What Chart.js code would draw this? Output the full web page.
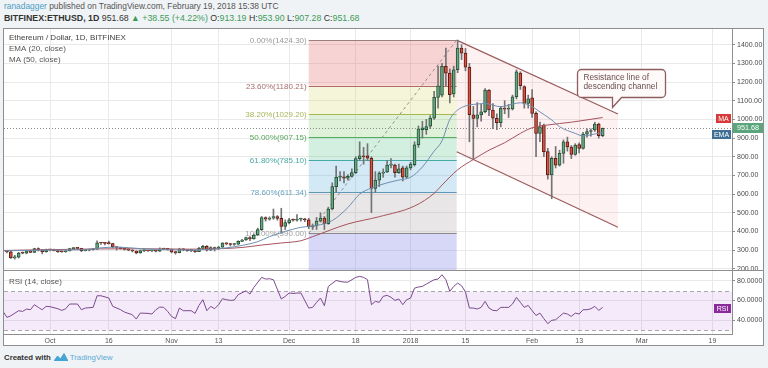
<!DOCTYPE html>
<html>
<head>
<meta charset="utf-8">
<title>ETHUSD 1D</title>
<script src="https://cdn.jsdelivr.net/npm/chart.js@4.4.1/dist/chart.umd.min.js"></script>
<style>
  html, body { margin:0; padding:0; }
  body { width:768px; height:368px; background:#f0f3f6; position:relative; overflow:hidden; font-family:"Liberation Sans", Arial, sans-serif; }
  .hdr { position:absolute; left:4px; white-space:nowrap; line-height:1; }
  #h1 { top:2px; font-size:8.4px; color:#555; }
  #h1 .user { color:#4b9cc4; }
  #h2 { top:14px; font-size:8.8px; color:#333; }
  #h2 .g { color:#3d9b58; }
  #frame { position:absolute; left:3px; top:28px; width:761px; height:318px; box-sizing:border-box; border:1px solid #8e8e8e; background:#fff; }
  canvas { position:absolute; left:0; }
  #cPrice { top:29px; }
  #cRsi { top:271px; }
  .ln { position:absolute; background:#8e8e8e; }
  #footer { position:absolute; left:4px; top:353px; font-size:7.8px; white-space:nowrap; line-height:1; }
  #footer b { color:#333; }
  #footer .tv { color:#5aa9d6; }
  #footer svg { vertical-align:-1px; margin:0 2px 0 3px; }
</style>
</head>
<body>
<div class="hdr" id="h1"><span class="user">ranadagger</span> published on TradingView.com, February 19, 2018 15:38 UTC</div>
<div class="hdr" id="h2"><b>BITFINEX:ETHUSD, 1D</b> 951.68 <span class="g">&#9650;</span> <span class="g">+38.55 (+4.22%)</span> O:<span class="g">913.19</span> H:<span class="g">953.90</span> L:<span class="g">907.28</span> C:<span class="g">951.68</span></div>
<div id="frame"></div>
<canvas id="cPrice" width="768" height="242"></canvas>
<canvas id="cRsi" width="768" height="75"></canvas>
<div class="ln" style="left:3px;top:270px;width:761px;height:1px"></div>
<div class="ln" style="left:732px;top:29px;width:1px;height:305px"></div>
<div class="ln" style="left:3px;top:334px;width:730px;height:1px"></div>
<div id="footer"><b>Created with</b><svg width="14" height="8" viewBox="0 0 14 8"><path d="M0 8 L3.5 3 L6.5 6 L10 0.5 L14 8 Z" fill="#45a5d4" stroke="#45a5d4" stroke-linejoin="round" stroke-width="1"/></svg><span class="tv">TradingView</span></div>

<script>
// ---------------- DATA ----------------
// Daily candles, index 0 = 2017-09-20, last = 2018-02-19
const open = [
  292,291,258,262,284,283,296,288,308,301,
  291,303,302,297,292,291,296,308,311,309,
  297,299,303,305,339,338,336,335,317,314,
  308,304,300,295,285,297,297,296,296,294,
  306,307,304,290,286,305,301,297,297,292,
  309,320,299,314,307,316,337,333,330,332,
  347,354,367,360,381,410,474,466,471,480,
  470,427,447,462,460,465,468,462,425,430,
  455,472,442,520,640,690,692,685,695,715,
  790,805,805,792,630,675,712,718,755,755,
  715,740,690,740,757,864,945,945,963,1007,
  1118,1129,1284,1248,1136,1266,1382,1355,1279,1025,
  1005,1025,1041,1157,1050,1006,983,1061,1054,1056,
  1121,1248,1175,1086,1115,1032,925,970,827,702,
  791,755,818,880,852,812,865,845,921,935,
  943,975,913.19];
const high = [
  298,293,272,288,290,298,298,310,312,302,
  306,304,305,299,295,298,310,314,313,310,
  303,305,308,350,342,342,348,337,318,316,
  310,308,302,297,300,300,299,300,298,312,
  310,309,306,292,310,308,303,303,300,315,
  325,324,318,316,320,340,340,336,336,350,
  358,370,372,385,418,480,478,478,520,485,
  524,462,470,467,490,472,470,470,440,475,
  500,480,530,660,750,720,720,705,735,800,
  880,850,870,800,720,720,735,780,790,760,
  760,750,750,770,880,965,990,1000,1020,1150,
  1285,1300,1382,1270,1285,1424.3,1400,1380,1300,1070,
  1090,1080,1165,1160,1085,1030,1070,1100,1080,1130,
  1265,1255,1180,1130,1160,1040,985,975,845,800,
  855,835,890,905,860,870,875,930,950,950,
  985,980,953.9];
const low = [
  285,255,252,258,280,280,286,286,295,280,
  289,295,295,288,288,288,295,304,305,292,
  295,296,300,303,330,328,332,312,300,305,
  300,297,290,280,283,292,293,292,290,292,
  302,300,285,278,285,296,293,292,288,291,
  306,295,297,295,303,314,328,322,325,328,
  345,352,350,358,378,405,455,460,465,460,
  390,410,440,455,455,455,452,415,410,410,
  450,410,438,515,610,670,660,675,690,710,
  780,760,780,500,610,640,690,715,740,690,
  710,670,685,730,750,850,900,920,950,1000,
  1060,1120,1180,1088,1120,1250,1320,1260,880,785,
  960,990,1035,1020,950,945,960,1030,1010,1050,
  1110,1160,1060,1060,1010,800,880,800,680,575,
  740,750,765,830,790,808,820,840,905,910,
  935,900,907.28];
const close = [
  291,258,262,284,283,296,288,308,301,291,
  303,302,297,292,291,296,308,311,309,297,
  299,303,305,339,338,336,335,317,314,308,
  304,300,295,285,297,297,296,296,294,306,
  307,304,290,286,305,301,297,297,292,309,
  320,299,314,307,316,337,333,330,332,347,
  354,367,360,381,410,474,466,471,480,470,
  427,447,462,460,465,468,462,425,430,455,
  472,442,520,640,690,692,685,695,715,790,
  805,800,792,630,675,712,718,755,758,715,
  735,690,740,760,864,950,955,962,1007,1118,
  1180,1284,1248,1132,1266,1382,1355,1279,1025,1005,
  1025,1041,1157,1050,1006,983,1061,1054,1056,1121,
  1255,1180,1086,1110,1032,925,960,827,702,791,
  755,818,880,852,812,862,845,921,935,940,
  975,913,951.68];

// Moving averages (day index, value)
const maDays = [-1,10,22,34,46,54,60,65,70,75,78,87,95,104,109,111,115,119,123,127,131,134,138,144,152];
const maVals = [298,302,306,307,305,307,314,327,338,350,372,440,479,536,604,648,730,785,835,875,925,955,970,985,1010];
const emaDays = [-1,10,20,24,28,34,40,46,52,56,60,64,67,71,75,79,83,87,90,93,97,100,103,106,109,111,113,115,117,119,122,126,129,131,134,136,139,141,145,147,150,152];
const emaVals = [296,300,302,312,316,308,302,300,304,312,325,345,372,400,422,432,458,528,600,632,660,675,690,745,830,885,1000,1050,1072,1080,1085,1068,1082,1089,1068,1040,997,961,925,911,922,929];

// RSI (14)
const rsiDays = [-1,0,1,3,4,5,6,7,8,9,10,11,13,14,15,16,18,19,20,22,23,24,26,27,29,30,32,33,34,36,37,38,39,40,41,42,43,44,45,47,48,49,50,51,52,53,54,55,56,57,58,59,61,62,63,65,66,67,68,70,71,72,73,74,75,77,78,79,80,81,82,84,85,86,87,89,90,91,92,93,94,95,96,
  97,98,99,100,101,102,103,104,105,106,107,109,110,111,112,113,114,115,116,117,118,119,120,121,122,123,124,125,126,127,128,129,130,131,132,133,134,135,136,137,138,139,140,141,142,143,144,145,146,147,148,149,150,151,152];
const rsiVals = [48.8,42.7,44.4,49.5,48.8,51.2,50.5,55.6,52.9,50.5,53.9,53.6,51.5,49.8,51.5,56.3,56.3,50.5,52.2,52.9,64.7,64.7,62.4,53.9,50.5,48.1,45.4,41.0,47.1,46.8,46.1,50.5,53.2,52.9,48.8,43.7,41.4,52.2,49.5,49.5,46.8,54.9,60.7,49.5,53.9,51.5,55.6,61.7,60.7,60.0,60.3,65.8,69.8,66.4,73.2,83.4,81.7,82.0,81.0,61.4,64.1,67.5,67.1,67.5,67.5,52.2,52.9,58.0,62.4,54.6,74.2,80.3,79.3,78.6,78.6,83.4,84.4,83.4,81.0,55.6,59.0,58.0,64.1,
  65.1,63.1,60.0,61.4,55.6,60.7,62.4,72.5,73.6,74.2,76.6,81.0,81.7,86.1,81.0,69.2,74.2,77.6,74.9,68.5,52.2,52.2,51.2,52.9,59.0,52.2,49.8,49.5,52.9,52.9,52.9,56.3,63.1,58.0,52.9,54.9,49.5,44.7,47.1,41.4,36.3,39.7,40.3,43.7,47.1,46.1,43.7,47.1,46.1,50.5,50.5,51.5,53.9,49.8,52.9];
const rsiBand = [30, 70];

// Axis ticks
const dateTickDays = [11, 26, 42, 54, 72, 89, 103, 117, 134, 146, 162, 180];
const dateTickLabels = ['Oct', '16', 'Nov', '13', 'Dec', '18', '2018', '15', 'Feb', '13', 'Mar', '19'];
const priceTicks = [200, 300, 400, 500, 600, 700, 800, 900, 1000, 1100, 1200, 1300, 1400];
const rsiTicks = [40, 60, 80];

// Drawings: Fibonacci retracement, descending channel, callout
const fibLevels = [0, 0.236, 0.382, 0.5, 0.618, 0.786, 1];
const fibHigh = 1424.30, fibLow = 390.00;
const fibDays = [77, 114.75];
const channelDays = [114.75, 155.9];
const channelUpper = [1424.3, 1029];
const channelLower = [827, 422];
const calloutPoint = [154.5, 1066];
const calloutLines = ['Resistance line of', 'descending channel'];

// ---------------- STYLE ----------------
const FONT = '"Liberation Sans", Arial, sans-serif';
const fibZoneFill = ['rgba(232,110,110,0.30)','rgba(212,215,95,0.24)','rgba(120,200,95,0.24)','rgba(70,190,125,0.24)','rgba(70,165,215,0.24)','rgba(150,140,140,0.22)','rgba(110,110,225,0.28)'];
const fibLineColor = ['#9b7f7f','#ad6b6b','#a6b852','#58ad5c','#45aaa0','#5f98b8','#8a8a8a'];
const fibTextColor = ['#9a9a9a','#a56d6d','#a8b45a','#55a55a','#45a8a0','#68a2c0','#a0a0a0'];
const upFill = '#6ba583', downFill = '#d75442', upBorder = '#225437', downBorder = '#5b1a13', wickColor = '#737375';
const gridColor = '#e9e9e9';
const xMin = -0.75, xMax = 185;

const days = close.map((_, i) => i);
const isUp = days.map(i => close[i] >= open[i]);

function linearX() {
  return {
    type: 'linear', min: xMin, max: xMax, offset: false,
    grid: { color: gridColor, drawTicks: false, offset: false },
    border: { display: false },
    afterBuildTicks: s => { s.ticks = dateTickDays.map(v => ({ value: v })); }
  };
}

function roundRectPath(ctx, x0, y0, x1, y1, r, tail) {
  ctx.beginPath();
  ctx.moveTo(x0 + r, y0);
  ctx.lineTo(x1 - r, y0); ctx.arcTo(x1, y0, x1, y0 + r, r);
  ctx.lineTo(x1, y1 - r); ctx.arcTo(x1, y1, x1 - r, y1, r);
  if (tail) { ctx.lineTo(tail.x + 9, y1); ctx.lineTo(tail.x, tail.y); ctx.lineTo(tail.x, y1); }
  ctx.lineTo(x0 + r, y1); ctx.arcTo(x0, y1, x0, y1 - r, r);
  ctx.lineTo(x0, y0 + r); ctx.arcTo(x0, y0, x0 + r, y0, r);
  ctx.closePath();
}

function tag(ctx, x, yc, w, h, fill, text, size) {
  ctx.fillStyle = fill;
  ctx.fillRect(x, Math.round(yc - h / 2), w, h);
  ctx.fillStyle = '#fff';
  ctx.font = size + 'px ' + FONT;
  ctx.textAlign = 'center'; ctx.textBaseline = 'middle';
  ctx.fillText(text, x + w / 2, Math.round(yc - h / 2) + h / 2 + 0.5);
}

const pricePlugin = {
  id: 'pricePlugin',
  beforeDatasetsDraw(chart) {
    const { ctx, chartArea: a } = chart;
    const X = v => chart.scales.x.getPixelForValue(v);
    const Y = v => chart.scales.y.getPixelForValue(v);
    ctx.save();
    ctx.beginPath(); ctx.rect(a.left, a.top, a.width, a.height); ctx.clip();

    // Fibonacci zones
    const fx0 = X(fibDays[0]), fx1 = X(fibDays[1]);
    const lvl = fibLevels.map(p => fibHigh - p * (fibHigh - fibLow));
    for (let i = 0; i < lvl.length; i++) {
      const t = Y(lvl[i]);
      const b = i + 1 < lvl.length ? Y(lvl[i + 1]) : a.bottom;
      ctx.fillStyle = fibZoneFill[i];
      ctx.fillRect(fx0, t, fx1 - fx0, b - t);
    }
    // Fibonacci lines and labels
    ctx.font = '8px ' + FONT;
    ctx.textAlign = 'right'; ctx.textBaseline = 'middle';
    for (let i = 0; i < lvl.length; i++) {
      const y = Math.round(Y(lvl[i])) + 0.5;
      ctx.strokeStyle = fibLineColor[i]; ctx.lineWidth = 1;
      ctx.beginPath(); ctx.moveTo(fx0, y); ctx.lineTo(fx1, y); ctx.stroke();
      ctx.fillStyle = fibTextColor[i];
      ctx.fillText((fibLevels[i] * 100).toFixed(2) + '%(' + lvl[i].toFixed(2) + ')', fx0 - 2, y);
    }
    // dashed trend line of the retracement
    ctx.strokeStyle = '#8f8f8f'; ctx.setLineDash([3, 3]); ctx.lineWidth = 1;
    ctx.beginPath(); ctx.moveTo(fx0, Y(fibLow)); ctx.lineTo(fx1, Y(fibHigh)); ctx.stroke();
    ctx.setLineDash([]);

    // Descending channel
    const cx0 = X(channelDays[0]), cx1 = X(channelDays[1]);
    ctx.fillStyle = 'rgba(232,120,120,0.10)';
    ctx.beginPath();
    ctx.moveTo(cx0, Y(channelUpper[0])); ctx.lineTo(cx1, Y(channelUpper[1]));
    ctx.lineTo(cx1, Y(channelLower[1])); ctx.lineTo(cx0, Y(channelLower[0]));
    ctx.closePath(); ctx.fill();
    ctx.strokeStyle = '#9a5c5c'; ctx.lineWidth = 1.2;
    ctx.beginPath(); ctx.moveTo(cx0, Y(channelUpper[0])); ctx.lineTo(cx1, Y(channelUpper[1])); ctx.stroke();
    ctx.beginPath(); ctx.moveTo(cx0, Y(channelLower[0])); ctx.lineTo(cx1, Y(channelLower[1])); ctx.stroke();

    // last price dotted line
    const ly = Math.round(Y(close[close.length - 1])) + 0.5;
    ctx.strokeStyle = '#8a8a8a'; ctx.lineWidth = 1; ctx.setLineDash([1, 2]);
    ctx.beginPath(); ctx.moveTo(a.left, ly); ctx.lineTo(a.right, ly); ctx.stroke();
    ctx.setLineDash([]);
    ctx.restore();
  },
  afterDraw(chart) {
    const { ctx, chartArea: a } = chart;
    const X = v => chart.scales.x.getPixelForValue(v);
    const Y = v => chart.scales.y.getPixelForValue(v);
    ctx.save();
    // callout
    const tx = Math.round(X(calloutPoint[0])) + 0.5, ty = Math.round(Y(calloutPoint[1])) + 0.5;
    const bx0 = tx - 35, bx1 = tx + 53, by0 = ty - 38, by1 = ty - 10;
    roundRectPath(ctx, bx0, by0, bx1, by1, 4, { x: tx, y: ty });
    ctx.fillStyle = '#fffafa'; ctx.fill();
    ctx.strokeStyle = '#8e5e5e'; ctx.lineWidth = 1.3; ctx.stroke();
    ctx.fillStyle = '#6a4f4f'; ctx.font = '8.3px ' + FONT;
    ctx.textAlign = 'left'; ctx.textBaseline = 'middle';
    ctx.fillText(calloutLines[0], bx0 + 6, by0 + 8.5);
    ctx.fillText(calloutLines[1], bx0 + 6, by0 + 17.5);

    // series tags on the right
    tag(ctx, a.right - 16, Y(maVals[maVals.length - 1]) + 1, 15, 9, '#d83a3a', 'MA', 7);
    tag(ctx, a.right - 20, Y(emaVals[emaVals.length - 1]) + 2, 19, 9, '#3f6f95', 'EMA', 7);
    tag(ctx, a.right + 1, Y(close[close.length - 1]), 30, 10, '#5aa57b', close[close.length - 1].toFixed(2), 7.2);

    // legend
    ctx.textAlign = 'left'; ctx.textBaseline = 'middle';
    ctx.fillStyle = '#3e3e3e'; ctx.font = '8px ' + FONT;
    ctx.fillText('Ethereum / Dollar, 1D, BITFINEX', a.left + 5, 8.5);
    ctx.fillStyle = '#555';
    ctx.fillText('EMA (20, close)', a.left + 5, 19.5);
    ctx.fillText('MA (50, close)', a.left + 5, 30.5);
    ctx.restore();
  }
};

const rsiPlugin = {
  id: 'rsiPlugin',
  beforeDatasetsDraw(chart) {
    const { ctx, chartArea: a } = chart;
    const Y = v => chart.scales.y.getPixelForValue(v);
    ctx.save();
    const y0 = Math.round(Y(rsiBand[1])) + 0.5, y1 = Math.round(Y(rsiBand[0])) + 0.5;
    ctx.fillStyle = 'rgba(175,90,215,0.13)';
    ctx.fillRect(a.left, y0, a.width, y1 - y0);
    ctx.strokeStyle = '#a8a8a8'; ctx.lineWidth = 1; ctx.setLineDash([4, 3]);
    [y0, y1].forEach(y => { ctx.beginPath(); ctx.moveTo(a.left, y); ctx.lineTo(a.right, y); ctx.stroke(); });
    ctx.setLineDash([]);
    ctx.restore();
  },
  afterDraw(chart) {
    const { ctx, chartArea: a } = chart;
    const Y = v => chart.scales.y.getPixelForValue(v);
    ctx.save();
    ctx.fillStyle = '#555'; ctx.font = '8px ' + FONT;
    ctx.textAlign = 'left'; ctx.textBaseline = 'middle';
    ctx.fillText('RSI (14, close)', a.left + 5, 11);
    tag(ctx, a.right - 18, Y(rsiVals[rsiVals.length - 1]) + 1, 17, 9, '#8a2b9b', 'RSI', 7);
    ctx.restore();
  }
};

Chart.defaults.font.family = FONT;

new Chart(document.getElementById('cPrice'), {
  type: 'bar',
  data: {
    datasets: [
      { type: 'line', label: 'EMA (20)', data: emaDays.map((d, i) => ({ x: d, y: emaVals[i] })),
        borderColor: '#6e8fb0', borderWidth: 1, pointRadius: 0, cubicInterpolationMode: 'monotone', order: 0 },
      { type: 'line', label: 'MA (50)', data: maDays.map((d, i) => ({ x: d, y: maVals[i] })),
        borderColor: '#a5525c', borderWidth: 1, pointRadius: 0, cubicInterpolationMode: 'monotone', order: 0 },
      { type: 'bar', label: 'body', data: days.map(i => ({ x: i, y: [open[i], close[i]] })),
        backgroundColor: days.map(i => isUp[i] ? upFill : downFill),
        borderColor: days.map(i => isUp[i] ? upBorder : downBorder),
        borderWidth: 1, borderSkipped: false, barThickness: 3, minBarLength: 1, grouped: false, order: 1 },
      { type: 'bar', label: 'wick', data: days.map(i => ({ x: i, y: [low[i], high[i]] })),
        backgroundColor: wickColor, barThickness: 1, grouped: false, order: 2 }
    ]
  },
  options: {
    responsive: false, animation: false, devicePixelRatio: 1,
    layout: { padding: { left: 4, right: 0, top: 0, bottom: 0 } },
    plugins: { legend: { display: false }, tooltip: { enabled: false } },
    scales: {
      x: Object.assign(linearX(), {
        ticks: { display: false },
        afterFit: s => { s.height = 0; s.paddingLeft = 0; s.paddingRight = 0; }
      }),
      y: {
        position: 'right', min: 188, max: 1484,
        grid: { color: gridColor, tickColor: '#8e8e8e', tickLength: 3 },
        border: { display: false },
        ticks: { color: '#4a4a4a', font: { size: 7, family: FONT }, padding: 2, callback: v => Number(v).toFixed(2) },
        afterBuildTicks: s => { s.ticks = priceTicks.map(v => ({ value: v })); },
        afterFit: s => { s.width = 36; s.paddingTop = 0; s.paddingBottom = 0; }
      }
    }
  },
  plugins: [pricePlugin]
});

new Chart(document.getElementById('cRsi'), {
  type: 'line',
  data: {
    datasets: [{ label: 'RSI (14)', data: rsiDays.map((d, i) => ({ x: d, y: rsiVals[i] })),
      borderColor: '#7a4a8c', borderWidth: 1, pointRadius: 0, tension: 0 }]
  },
  options: {
    responsive: false, animation: false, devicePixelRatio: 1,
    layout: { padding: { left: 4, right: 0, top: 0, bottom: 0 } },
    plugins: { legend: { display: false }, tooltip: { enabled: false } },
    scales: {
      x: Object.assign(linearX(), {
        ticks: { color: '#555', font: { size: 7, family: FONT }, padding: 3, maxRotation: 0, autoSkip: false,
          callback: (v, i) => dateTickLabels[i] },
        afterFit: s => { s.height = 12; s.paddingLeft = 0; s.paddingRight = 0; }
      }),
      y: {
        position: 'right', min: 25.8, max: 89.9,
        grid: { color: gridColor, tickColor: '#8e8e8e', tickLength: 3 },
        border: { display: false },
        ticks: { color: '#4a4a4a', font: { size: 7, family: FONT }, padding: 2, callback: v => Number(v).toFixed(4) },
        afterBuildTicks: s => { s.ticks = rsiTicks.map(v => ({ value: v })); },
        afterFit: s => { s.width = 36; s.paddingTop = 0; s.paddingBottom = 0; }
      }
    }
  },
  plugins: [rsiPlugin]
});
</script>
</body>
</html>
